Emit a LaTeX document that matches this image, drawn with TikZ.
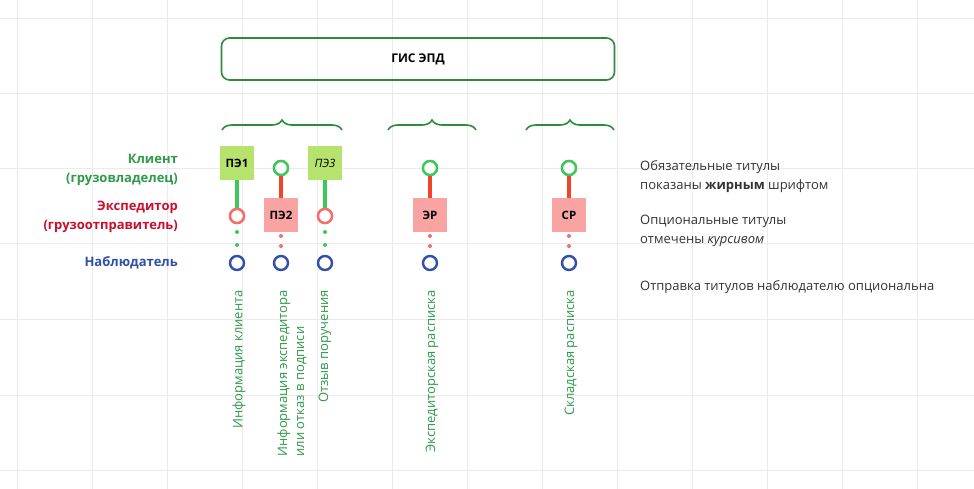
\documentclass[tikz,border=0pt]{standalone}
\usepackage{fontspec}
\setmainfont{Open Sans}
\usetikzlibrary{decorations.pathreplacing}
\definecolor{gline}{HTML}{3CC85A}
\definecolor{gdark}{HTML}{2E8B3C}
\definecolor{gtext}{HTML}{2E9A4A}
\definecolor{rcirc}{HTML}{F46D6D}
\definecolor{rline}{HTML}{F0442C}
\definecolor{bcirc}{HTML}{2F4FA8}
\definecolor{pinkbox}{HTML}{F9A3A3}
\definecolor{greenbox}{HTML}{B6E36E}
\definecolor{rtext}{HTML}{C8102E}
\definecolor{gridc}{HTML}{EBEBEB}
\definecolor{note}{HTML}{333333}
\begin{document}
\begin{tikzpicture}[x=1pt,y=-1pt,
  circ/.style={circle,draw=#1,line width=2.4pt,minimum size=14pt,inner sep=0pt,fill=white},
  gbox/.style={fill=greenbox,minimum size=34pt,inner sep=0pt,font=\fontsize{11.5}{13}\selectfont\bfseries},
  pbox/.style={fill=pinkbox,minimum size=34pt,inner sep=0pt,font=\fontsize{11.5}{13}\selectfont\bfseries},
  gl/.style={gline,line width=3.5pt},
  rl/.style={rline,line width=3.5pt},
  dot/.style={circle,fill=#1,minimum size=4pt,inner sep=0pt},
  rot/.style={rotate=90,anchor=east,text=gtext,font=\fontsize{13}{17}\selectfont,align=left,inner sep=0pt},
  lab/.style={anchor=east,align=right,font=\fontsize{13}{19}\selectfont\bfseries,inner sep=0pt},
  nt/.style={anchor=west,align=left,text=note,font=\fontsize{13}{19}\selectfont,inner sep=0pt},
  br/.style={gdark,line width=1.6pt,decorate,decoration={brace,amplitude=10pt}}]
\useasboundingbox (0,0) rectangle (974,489);
\fill[white] (0,0) rectangle (974,489);
\foreach \x in {17,92,...,917} \draw[gridc,line width=0.8pt] (\x,0) -- (\x,489);
\foreach \y in {18,93,168,243,319,395,470} \draw[gridc,line width=0.8pt] (0,\y) -- (974,\y);

\node[draw=gdark,line width=1.6pt,rounded corners=8pt,minimum width=393pt,minimum height=42pt,font=\fontsize{12}{14}\selectfont\bfseries] (gis) at (418,59) {ГИС ЭПД};
\coordinate (b1a) at (222,130); \coordinate (b1b) at (342,130);
\coordinate (b2a) at (388,130); \coordinate (b2b) at (476,130);
\coordinate (b3a) at (526,130); \coordinate (b3b) at (614,130);
\draw[br] (b1a) -- (b1b);
\draw[br] (b2a) -- (b2b);
\draw[br] (b3a) -- (b3b);

\node[lab,text=gtext] (kl) at (178,170) {Клиент\\(грузовладелец)};
\node[lab,text=rtext] (ex) at (178,217) {Экспедитор\\(грузоотправитель)};
\node[lab,text=bcirc] (nb) at (178,263) {Наблюдатель};

% PE1
\node[gbox] (p1) at (237,163) {ПЭ1};
\node[circ=rcirc] (p1r) at (237,216) {};
\node[circ=bcirc] (p1b) at (237,263) {};
\draw[gl] (p1) -- (p1r);
\node[dot=gline] (d11) at (237,232) {}; \node[dot=gline] (d12) at (237,245) {};
% PE2
\node[circ=gline] (p2g) at (281,168) {};
\node[pbox] (p2) at (281,215) {ПЭ2};
\node[circ=bcirc] (p2b) at (281,263) {};
\draw[rl] (p2g) -- (p2);
\node[dot=rcirc] (d21) at (281,236) {}; \node[dot=rcirc] (d22) at (281,246) {};
% PE3
\node[gbox,font=\fontsize{11.5}{13}\selectfont\itshape] (p3) at (325,163) {ПЭ3};
\node[circ=rcirc] (p3r) at (325,216) {};
\node[circ=bcirc] (p3b) at (325,263) {};
\draw[gl] (p3) -- (p3r);
\node[dot=gline] (d31) at (325,232) {}; \node[dot=gline] (d32) at (325,245) {};
% ER
\node[circ=gline] (erg) at (430,168) {};
\node[pbox] (er) at (430,215) {ЭР};
\node[circ=bcirc] (erb) at (430,263) {};
\draw[rl] (erg) -- (er);
\node[dot=rcirc] (d41) at (430,236) {}; \node[dot=rcirc] (d42) at (430,246) {};
% SR
\node[circ=gline] (srg) at (569,168) {};
\node[pbox] (sr) at (569,215) {СР};
\node[circ=bcirc] (srb) at (569,263) {};
\draw[rl] (srg) -- (sr);
\node[dot=rcirc] (d51) at (569,236) {}; \node[dot=rcirc] (d52) at (569,246) {};
\node[circ=rcirc] at (p1r) {}; \node[circ=rcirc] at (p3r) {};
\foreach \n in {p2g,erg,srg} \node[circ=gline] at (\n) {};

\node[rot] (t1) at (239,290) {Информация клиента};
\node[rot] (t2) at (292,290) {Информация экспедитора\\или отказ в подписи};
\node[rot] (t3) at (325,290) {Отзыв поручения};
\node[rot] (t4) at (432,290) {Экспедиторская расписка};
\node[rot] (t5) at (571,290) {Складская расписка};

\node[nt] (n1) at (640,177) {Обязательные титулы\\показаны \textbf{жирным} шрифтом};
\node[nt] (n2) at (640,231) {Опциональные титулы\\отмечены \textit{курсивом}};
\node[nt] (n3) at (640,287) {Отправка титулов наблюдателю опциональна};
\end{tikzpicture}
\end{document}
